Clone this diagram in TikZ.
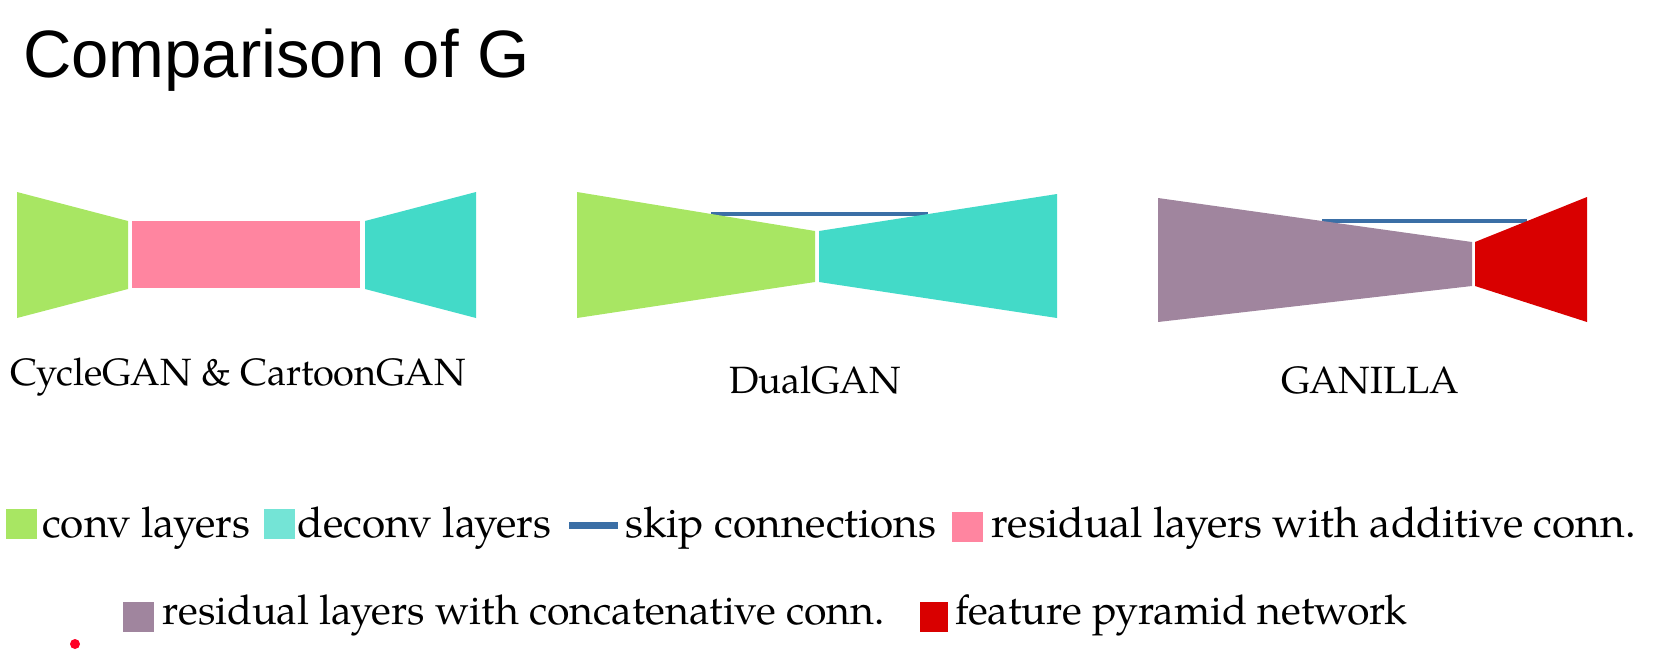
\documentclass[tikz,border=0pt]{standalone}
\usepackage{fontspec}
\setmainfont{TeX Gyre Pagella}
\newfontfamily\titlefont{Liberation Sans}
\definecolor{convgreen}{HTML}{A8E663}
\definecolor{deconvteal}{HTML}{43DAC8}
\definecolor{legteal}{HTML}{74E4D6}
\definecolor{respink}{HTML}{FF85A0}
\definecolor{respurple}{HTML}{A0859E}
\definecolor{fpnred}{HTML}{D90000}
\definecolor{skipblue}{HTML}{3B6FA6}
\tikzset{
  lbl/.style={font=\fontsize{42.3}{48}\selectfont, inner sep=0pt, anchor=base west},
  lbltwo/.style={lbl, font=\fontsize{41}{48}\selectfont},
  netname/.style={font=\fontsize{38}{44}\selectfont, inner sep=0pt, anchor=base},
  legbox/.style={minimum width=31pt, minimum height=30pt, inner sep=0pt},
  skip/.style={draw=skipblue, line width=3.5pt}
}
\begin{document}
\begin{tikzpicture}[x=1pt,y=-1pt]
    \useasboundingbox (0,0) rectangle (1655,665);
    \node[inner sep=0pt, anchor=base west, font=\titlefont\fontsize{67}{76}\selectfont] (title) at (23,77) {Comparison of G};

    % CycleGAN & CartoonGAN
    \fill[convgreen] (17,192) -- (128,221) -- (128,289) -- (17,318) -- cycle;
    \fill[respink] (132,221) rectangle (360,288);
    \fill[deconvteal] (365,221) -- (476,192) -- (476,318) -- (365,289) -- cycle;
    \node[netname] (cyc) at (238,385) {CycleGAN \& CartoonGAN};

    % DualGAN
    \coordinate (dskipL) at (711,214);
    \coordinate (dskipR) at (928,214);
    \draw[skip] (dskipL) -- (dskipR);
    \fill[convgreen] (577,192) -- (815,231) -- (815,282) -- (577,318) -- cycle;
    \fill[deconvteal] (819,231) -- (1057,194) -- (1057,318) -- (819,282) -- cycle;
    \node[netname] (dual) at (815,393) {DualGAN};

    % GANILLA
    \coordinate (gskipL) at (1322,221);
    \coordinate (gskipR) at (1527,221);
    \draw[skip] (gskipL) -- (gskipR);
    \fill[respurple] (1158,198) -- (1472,242) -- (1472,286) -- (1158,322) -- cycle;
    \fill[fpnred] (1475,242) -- (1587,197) -- (1587,322) -- (1475,286) -- cycle;
    \node[netname] (ganilla) at (1370,393) {GANILLA};

    % legend, first row
    \node[legbox, fill=convgreen] (kconv) at (21.5,524) {};
    \node[lbl] (tconv) at (42,537) {conv layers};
    \node[legbox, fill=legteal] (kdeconv) at (279,524) {};
    \node[lbl] (tdeconv) at (297,537) {deconv layers};
    \coordinate (kskipL) at (569,525);
    \coordinate (kskipR) at (618,525);
    \draw[draw=skipblue, line width=7pt] (kskipL) -- (kskipR);
    \node[lbl] (tskip) at (625,537) {skip connections};
    \node[legbox, fill=respink] (kadd) at (967.5,526.5) {};
    \node[lbl] (tadd) at (991,537) {residual layers with additive conn.};

    % legend, second row
    \node[legbox, fill=respurple] (kcat) at (138.5,617) {};
    \node[lbltwo] (tcat) at (162,624) {residual layers with concatenative conn.};
    \node[legbox, minimum width=28pt, fill=fpnred] (kfpn) at (934,617) {};
    \node[lbltwo] (tfpn) at (955,624) {feature pyramid network};

    \fill[red!85!magenta] (75,644) circle (5);
\end{tikzpicture}
\end{document}
